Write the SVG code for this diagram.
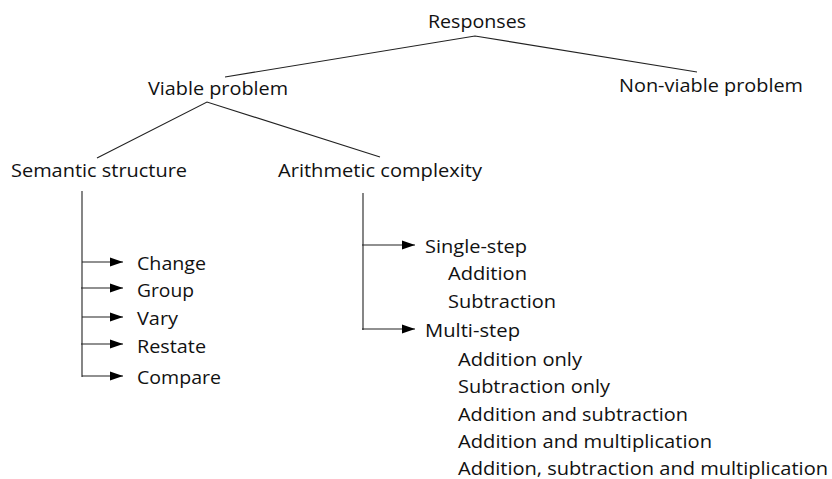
<svg xmlns="http://www.w3.org/2000/svg" width="832" height="479" viewBox="0 0 832 479">
<style>
text{font-family:"Open Sans","Noto Sans","Liberation Sans",sans-serif;font-size:18.5px;fill:#111;}
.ln{stroke:#222;stroke-width:1.1;fill:none;}
.ar{stroke:#222;stroke-width:1.1;fill:none;marker-end:url(#ah);}
</style>
<defs>
<marker id="ah" markerWidth="13" markerHeight="10" refX="13" refY="5" orient="auto" markerUnits="userSpaceOnUse">
<path d="M0,0.5 L13,5 L0,9.5 Z" fill="#000"/>
</marker>
</defs>
<rect width="832" height="479" fill="#fff"/>
<g id="connectors">
<path class="ln" d="M225,77 L475,36 L697,72"/>
<path class="ln" d="M97,158 L207,102 L380,157"/>
<path class="ln" d="M82,191 V377"/>
<path class="ar" d="M82,262 H123"/>
<path class="ar" d="M81,288 H123"/>
<path class="ar" d="M82,317 H123"/>
<path class="ar" d="M81,344 H123"/>
<path class="ar" d="M82,376 H123"/>
<path class="ln" d="M363,193 V330"/>
<path class="ar" d="M362,245 H415"/>
<path class="ar" d="M362,329 H415"/>
</g>
<g id="responses"><text x="428" y="28" textLength="98" lengthAdjust="spacingAndGlyphs">Responses</text></g>
<g id="viable"><text x="148" y="95" textLength="140" lengthAdjust="spacingAndGlyphs">Viable problem</text></g>
<g id="nonviable"><text x="619" y="92" textLength="184" lengthAdjust="spacingAndGlyphs">Non-viable problem</text></g>
<g id="semantic"><text x="11" y="177" textLength="176" lengthAdjust="spacingAndGlyphs">Semantic structure</text></g>
<g id="arithmetic"><text x="278" y="177" textLength="204" lengthAdjust="spacingAndGlyphs">Arithmetic complexity</text></g>
<g id="change"><text x="137" y="270" textLength="69" lengthAdjust="spacingAndGlyphs">Change</text></g>
<g id="group"><text x="137" y="297" textLength="57" lengthAdjust="spacingAndGlyphs">Group</text></g>
<g id="vary"><text x="137" y="325" textLength="41" lengthAdjust="spacingAndGlyphs">Vary</text></g>
<g id="restate"><text x="137" y="353" textLength="69" lengthAdjust="spacingAndGlyphs">Restate</text></g>
<g id="compare"><text x="137" y="384" textLength="84" lengthAdjust="spacingAndGlyphs">Compare</text></g>
<g id="singlestep"><text x="425" y="253" textLength="102" lengthAdjust="spacingAndGlyphs">Single-step</text>
<text x="448" y="280" textLength="79" lengthAdjust="spacingAndGlyphs">Addition</text>
<text x="448" y="308" textLength="108" lengthAdjust="spacingAndGlyphs">Subtraction</text></g>
<g id="multistep"><text x="425" y="337" textLength="95" lengthAdjust="spacingAndGlyphs">Multi-step</text>
<text x="458" y="366" textLength="124" lengthAdjust="spacingAndGlyphs">Addition only</text>
<text x="458" y="393" textLength="152" lengthAdjust="spacingAndGlyphs">Subtraction only</text>
<text x="458" y="421" textLength="230" lengthAdjust="spacingAndGlyphs">Addition and subtraction</text>
<text x="458" y="448" textLength="254" lengthAdjust="spacingAndGlyphs">Addition and multiplication</text>
<text x="458" y="475" textLength="370" lengthAdjust="spacingAndGlyphs">Addition, subtraction and multiplication</text></g>
</svg>
